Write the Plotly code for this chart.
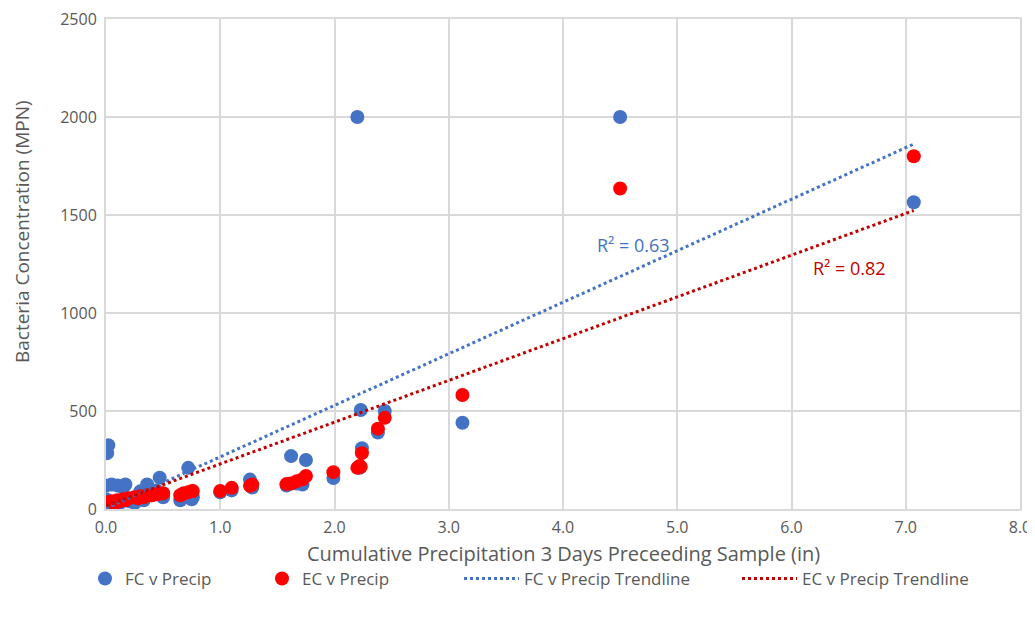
import plotly.graph_objects as go

# ---- data ----
precip = [0.00, 0.00, 0.00, 0.01, 0.02, 0.03, 0.05, 0.08, 0.10, 0.12,
          0.15, 0.17, 0.20, 0.25, 0.28, 0.30, 0.33, 0.36, 0.40, 0.44,
          0.47, 0.50, 0.65, 0.68, 0.72, 0.75, 0.76, 1.00, 1.10, 1.26,
          1.28, 1.58, 1.62, 1.67, 1.72, 1.75, 1.99, 2.20, 2.22, 2.24,
          2.23, 2.38, 2.44, 3.12, 4.50, 7.07]
fc_values = [5, 50, 120, 285, 325, 20, 125, 10, 120, 30,
             110, 125, 40, 30, 55, 90, 45, 125, 70, 95,
             160, 60, 45, 60, 210, 50, 60, 85, 95, 150,
             110, 120, 270, 130, 125, 250, 158, 2000, 210, 310,
             505, 390, 500, 440, 2000, 1565]
ec_values = [5, 15, 25, 30, 35, 20, 40, 30, 45, 40,
             50, 45, 55, 60, 55, 65, 60, 70, 70, 75,
             78, 80, 70, 80, 85, 90, 92, 92, 108, 118,
             125, 127, 130, 142, 152, 168, 188, 210, 220, 285,
             215, 410, 465, 582, 1635, 1800]

fc_trend_x = [0.0, 7.07]
fc_trend_y = [3, 1862]
ec_trend_x = [0.0, 7.07]
ec_trend_y = [17, 1523]

x_ticks = [0, 1, 2, 3, 4, 5, 6, 7, 8]
y_ticks = [0, 500, 1000, 1500, 2000, 2500]

BLUE = "#4472C4"
RED = "#FF0000"
TREND_BLUE = "#4472C4"
TREND_RED = "#C00000"
GRAY = "#595959"
GRID = "#D9D9D9"
FONT = "Open Sans"

# the page body has an 8px margin, so the figure is drawn 8px right / down
OFF = 8
W, H = 1035 - OFF, 620 - OFF
L, R, T, B = 106 - OFF, 1035 - 1020, 19 - OFF, 620 - 509
PW, PH = W - L - R, H - T - B

fig = go.Figure()
fig.add_trace(go.Scatter(x=precip, y=fc_values, mode="markers", name="FC v Precip",
                         marker=dict(color=BLUE, size=14), legend="legend"))
fig.add_trace(go.Scatter(x=precip, y=ec_values, mode="markers", name="EC v Precip",
                         marker=dict(color=RED, size=14), legend="legend2"))
fig.add_trace(go.Scatter(x=fc_trend_x, y=fc_trend_y, mode="lines", name="FC v Precip Trendline",
                         line=dict(color=TREND_BLUE, width=3, dash="dot"), legend="legend3"))
fig.add_trace(go.Scatter(x=ec_trend_x, y=ec_trend_y, mode="lines", name="EC v Precip Trendline",
                         line=dict(color=TREND_RED, width=3, dash="dot"), legend="legend4"))

LEG_Y = (H - (579 - OFF)) / H


def leg(xpx, itemwidth=30):
    return dict(orientation="h", xref="container", yref="container", yanchor="middle",
                xanchor="left", bgcolor="rgba(0,0,0,0)", x=(xpx - OFF) / W, y=LEG_Y,
                itemwidth=itemwidth,
                font=dict(family=FONT, size=17, color=GRAY))


axis_common = dict(showgrid=True, gridcolor=GRID, gridwidth=2,
                   showline=True, linecolor=GRID, linewidth=2, mirror=True,
                   zeroline=False, ticks="", automargin=False,
                   ticklabeloverflow="allow",
                   tickfont=dict(family=FONT, size=16, color=GRAY))

fig.update_layout(
    width=W, height=H,
    margin=dict(l=L, r=R, t=T, b=B, autoexpand=False),
    paper_bgcolor="white", plot_bgcolor="white",
    font=dict(family=FONT, size=16, color=GRAY),
    showlegend=True,
    legend=leg(85), legend2=leg(262), legend3=leg(459, 55), legend4=leg(737, 55),
    xaxis=dict(range=[0, 8], tickvals=x_ticks, tickformat=".1f",
               ticklabelstandoff=3, **axis_common),
    yaxis=dict(range=[0, 2500], tickvals=y_ticks,
               ticklabelstandoff=4, **axis_common),
    annotations=[
        dict(x=(563 - 106) / PW, y=-(553 - 509) / PH, xref="paper", yref="paper",
             text="Cumulative Precipitation 3 Days Preceeding Sample (in)",
             showarrow=False, xanchor="center", yanchor="middle",
             font=dict(family=FONT, size=20, color=GRAY)),
        dict(x=(22 - 106) / PW, y=(509 - 232) / PH, xref="paper", yref="paper",
             text="Bacteria Concentration (MPN)", textangle=-90,
             showarrow=False, xanchor="center", yanchor="middle",
             font=dict(family=FONT, size=19, color=GRAY)),
        dict(x=4.62, y=1345, xref="x", yref="y", text="R² = 0.63", showarrow=False,
             font=dict(family=FONT, size=18, color=BLUE)),
        dict(x=6.51, y=1228, xref="x", yref="y", text="R² = 0.82", showarrow=False,
             font=dict(family=FONT, size=18, color=TREND_RED)),
    ],
)

fig.write_html("out.html")
